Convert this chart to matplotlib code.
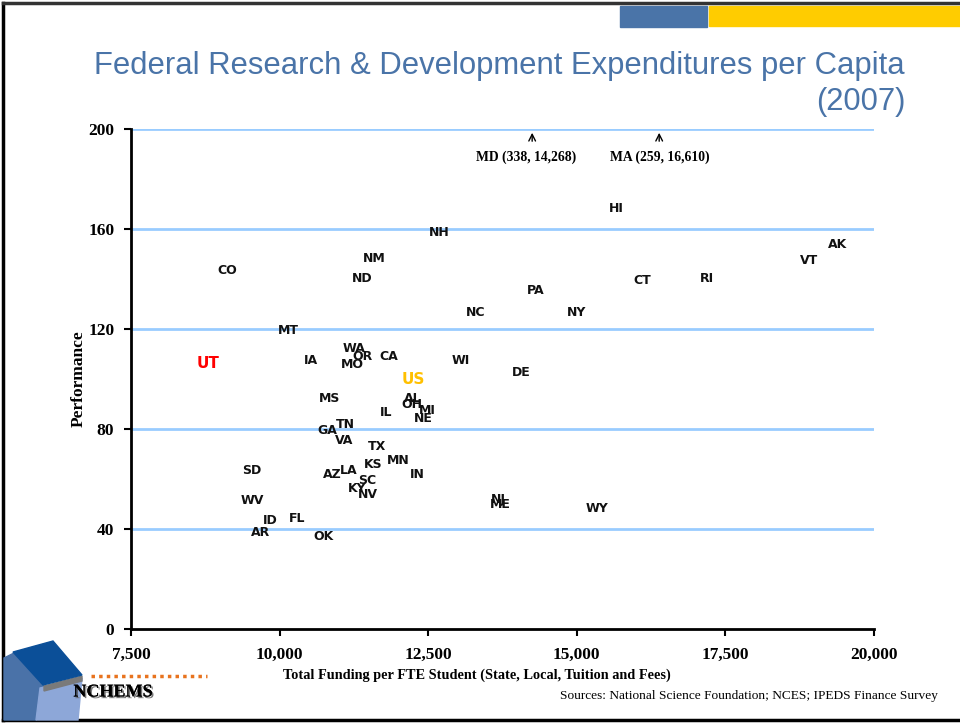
import matplotlib
matplotlib.use("Agg")
import matplotlib.pyplot as plt
from matplotlib.patches import Polygon, Rectangle
from matplotlib.lines import Line2D
import matplotlib.patheffects as pe

# ---- data ----
states = ["CO", "MT", "IA", "NM", "ND", "NH", "WA", "OR", "MO", "CA", "WI", "DE",
          "NC", "PA", "NY", "HI", "CT", "RI", "VT", "AK", "MS", "AL", "OH", "MI",
          "NE", "IL", "TN", "GA", "VA", "TX", "MN", "KS", "IN", "LA", "AZ", "SC",
          "KY", "NV", "SD", "WV", "ID", "FL", "AR", "OK", "NJ", "ME", "WY"]
funding = [9116, 10143, 10530, 11590, 11388, 12684, 11253, 11388, 11220, 11843, 13054, 14065,
           13290, 14300, 14990, 15663, 16100, 17194, 18911, 19382, 10833, 12247, 12230, 12482,
           12415, 11792, 11101, 10799, 11085, 11640, 11994, 11573, 12314, 11169, 10883, 11472,
           11304, 11489, 9536, 9536, 9839, 10294, 9688, 10731, 13677, 13711, 15343]
performance = [143.6, 119.6, 107.6, 148.4, 140.4, 158.4, 112.4, 108.8, 106.0, 109.2, 107.6, 102.8,
               126.8, 135.6, 126.4, 168.0, 139.6, 140.4, 147.2, 154.0, 92.0, 92.4, 90.0, 87.2,
               84.4, 86.4, 81.6, 79.2, 75.2, 73.2, 67.6, 65.6, 61.6, 63.6, 62.0, 59.2,
               56.4, 53.6, 63.2, 51.6, 43.2, 44.4, 38.4, 37.2, 51.6, 49.6, 48.4]

highlight_labels = ["UT", "US"]
highlight_funding = [8796, 12247]
highlight_performance = [106.0, 100.0]
highlight_colors = ["#FF0000", "#FFC000"]

offscale_labels = ["MD (338, 14,268)", "MA (259, 16,610)"]
offscale_funding = [14249, 16386]
offscale_label_funding = [14148, 16403]

x_ticks = [7500, 10000, 12500, 15000, 17500, 20000]
x_ticklabels = ["7,500", "10,000", "12,500", "15,000", "17,500", "20,000"]
y_ticks = [0, 40, 80, 120, 160, 200]

W, H = 960, 723
fig = plt.figure(figsize=(W / 100, H / 100), dpi=100)

def fx(px):
    return px / W

def fy(py):
    return 1 - py / H

ax = fig.add_axes([fx(131), fy(629), fx(874) - fx(131), fy(129) - fy(629)])
ax.set_xlim(7500, 20000)
ax.set_ylim(0, 200)

for yv in y_ticks[1:]:
    ax.axhline(yv, color="#99CCFF", lw=2, zorder=1)

for s, xv, yv in zip(states, funding, performance):
    ax.text(xv, yv, s, ha="center", va="center", fontsize=9, fontweight="bold",
            family="DejaVu Sans", color="#111111", zorder=3)
for s, xv, yv, c in zip(highlight_labels, highlight_funding, highlight_performance, highlight_colors):
    ax.text(xv, yv, s, ha="center", va="center", fontsize=11, fontweight="bold",
            family="DejaVu Sans", color=c, zorder=3)

for s, xv, lx in zip(offscale_labels, offscale_funding, offscale_label_funding):
    ax.annotate("", xy=(xv, 199.6), xytext=(xv, 194.0),
                arrowprops=dict(arrowstyle="->", color="black", lw=1.0, mutation_scale=12))
    ax.text(lx, 188.6, s, ha="center", va="center", fontsize=9.8,
            fontweight="bold", family="Liberation Serif")

for side in ["top", "right"]:
    ax.spines[side].set_visible(False)
ax.spines["left"].set_linewidth(2)
ax.spines["bottom"].set_linewidth(2)
ax.set_xticks(x_ticks)
ax.set_xticklabels(x_ticklabels)
ax.set_yticks(y_ticks)
ax.tick_params(axis="both", direction="out", length=5, width=1.5, labelsize=12.5)
ax.tick_params(axis="x", pad=8)
ax.tick_params(axis="y", pad=7)
for lab in ax.get_xticklabels() + ax.get_yticklabels():
    lab.set_family("Liberation Serif")
    lab.set_fontweight("bold")

ax.set_ylabel("Performance", fontsize=12.5, fontweight="bold", family="Liberation Serif", labelpad=1)

# title
title_color = "#4A74A8"
fig.text(fx(905), fy(74), "Federal Research & Development Expenditures per Capita",
         ha="right", va="baseline", fontsize=22.3, color=title_color, family="Liberation Sans")
fig.text(fx(905), fy(110), "(2007)", ha="right", va="baseline", fontsize=22.3,
         color=title_color, family="Liberation Sans")

fig.text(fx(477), fy(675), "Total Funding per FTE Student (State, Local, Tuition and Fees)",
         ha="center", va="center", fontsize=10.3, fontweight="bold", family="Liberation Serif")
fig.text(fx(938), fy(696), "Sources: National Science Foundation; NCES; IPEDS Finance Survey",
         ha="right", va="center", fontsize=9.6, family="Liberation Serif")

# top colour bars
fig.patches.append(Rectangle((fx(620), fy(27)), fx(707) - fx(620), fy(6) - fy(27),
                             transform=fig.transFigure, color="#4A74A8", zorder=0))
fig.patches.append(Rectangle((fx(709), fy(26)), fx(960) - fx(709), fy(6) - fy(26),
                             transform=fig.transFigure, color="#FFCC00", zorder=0))

# frame
frame_kw = dict(transform=fig.transFigure, color="black", lw=2.5)
fig.lines.append(Line2D([fx(3), fx(3)], [fy(3), fy(720)], **frame_kw))
fig.lines.append(Line2D([fx(3), fx(960)], [fy(3), fy(3)], transform=fig.transFigure,
                        color="#333333", lw=2.5))
fig.lines.append(Line2D([fx(3), fx(960)], [fy(720), fy(720)], **frame_kw))

# logo
def poly(pts, color):
    fig.patches.append(Polygon([(fx(a), fy(b)) for a, b in pts], closed=True,
                               transform=fig.transFigure, color=color, zorder=2))

poly([(4, 658), (14, 653), (44, 686), (36, 720), (4, 720)], "#4A72A8")
poly([(40, 688), (82, 678), (78, 720), (36, 720)], "#8DA7D8")
poly([(44, 686), (82, 676), (82, 681), (44, 691)], "#7A7A7A")
poly([(13, 652), (53, 641), (82, 675), (43, 685)], "#0B4F98")
fig.lines.append(Line2D([fx(91), fx(207)], [fy(676), fy(676)], transform=fig.transFigure,
                        color="#E8731E", lw=2.5, ls=(0, (1, 1.2))))
fig.text(fx(113), fy(692), "NCHEMS", ha="center", va="center", fontsize=13,
         fontweight="heavy", family="Liberation Serif", color="black", zorder=3,
         path_effects=[pe.withSimplePatchShadow(offset=(1.2, -1.2), shadow_rgbFace="#555555", alpha=0.8),
                       pe.Normal()])

fig.savefig("out.png", dpi=100)
